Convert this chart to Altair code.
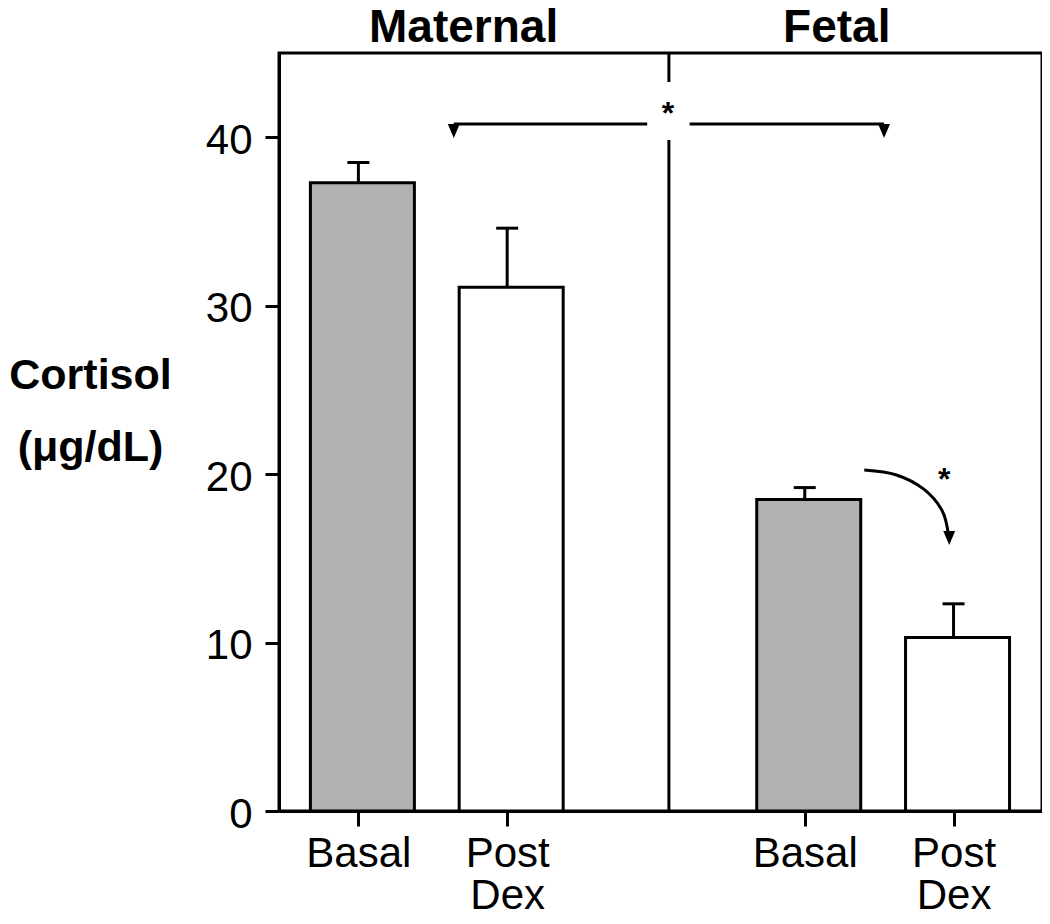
import altair as alt
import pandas as pd

# ---- data ----
groups = ["Maternal", "Maternal", "Fetal", "Fetal"]
conditions = ["Basal", "Post Dex", "Basal", "Post Dex"]
tick_labels = ["Basal", "Post Dex", "Basal", "Post Dex"]
slots = [0.5, 1.5, 3.5, 4.5]          # category slots on the x scale
means = [37.3, 31.1, 18.5, 10.3]
errors = [1.2, 3.5, 0.7, 2.0]
y_ticks = [0, 10, 20, 30, 40]

panel_titles = ["Maternal", "Fetal"]
panel_title_x = [1.207, 3.715]

# annotation geometry (in data units)
divider_x = [2.587, 2.587]
divider_y_top = [45.0, 39.84]
divider_y_bottom = [43.28, 0.0]

bracket_y = [40.79, 40.79]
bracket_x_start = [1.141, 2.726]
bracket_x_end = [2.441, 4.033]

arrowhead_x = [1.141, 4.033, 4.471]
arrowhead_y = [40.37, 40.37, 16.21]

curve_x = [3.900, 4.116, 4.298, 4.421, 4.464]
curve_y = [20.24, 19.95, 19.12, 17.87, 16.50]

star_x = [2.580, 4.438]
star_y = [40.79, 19.06]

FONT = "Liberation Sans"

df = pd.DataFrame({
    "group": groups, "condition": conditions, "slot": slots,
    "mean": means, "err": errors,
})
df["top"] = df["mean"] + df["err"]

xs = alt.Scale(domain=[0, 5.061], nice=False, zero=False)
ys = alt.Scale(domain=[0, 45], nice=False)

label_expr = ""
for v, t in zip(slots[:-1], tick_labels[:-1]):
    label_expr += f"datum.value == {v} ? '{t}' : "
label_expr += f"'{tick_labels[-1]}'"
label_expr = f"split({label_expr}, ' ')"

x_axis = alt.Axis(
    values=slots, labelExpr=label_expr, title=None, grid=False,
    domainColor="black", domainWidth=3, tickColor="black", tickWidth=3,
    tickSize=15, labelFont=FONT, labelFontSize=42, labelColor="black",
    labelPadding=7, labelLineHeight=42, labelFlush=False, labelOverlap=False,
    labelBaseline="top",
)
y_axis = alt.Axis(
    values=y_ticks, grid=False, domainColor="black", domainWidth=3,
    tickColor="black", tickWidth=3, tickSize=14, labelFont=FONT,
    labelFontSize=42, labelColor="black", labelPadding=13, labelFlush=False,
    labelOffset=3,
    title=["Cortisol", "(μg/dL)"], titleAngle=0, titleAlign="center",
    titleBaseline="alphabetic", titleX=-189, titleY=335, titleFont=FONT,
    titleFontSize=43, titleFontWeight="bold", titleLineHeight=72,
    titleColor="black",
)


def X(field):
    return alt.X(field, scale=xs, axis=x_axis)


def Y(field):
    return alt.Y(field, scale=ys, axis=y_axis)


bars = alt.Chart(df).mark_bar(
    width=104, xOffset=4, stroke="black", strokeWidth=3, strokeJoin="miter"
).encode(
    x=X("slot:Q"),
    y=Y("mean:Q"),
    fill=alt.Fill("condition:N",
                  scale=alt.Scale(domain=["Basal", "Post Dex"],
                                  range=["#b2b2b2", "#ffffff"]),
                  legend=None),
)

err_rule = alt.Chart(df).mark_rule(color="black", strokeWidth=3).encode(
    x=X("slot:Q"), y=Y("mean:Q"), y2="top:Q",
)
err_cap = alt.Chart(df).mark_tick(
    color="black", orient="horizontal", size=22, thickness=3, opacity=1
).encode(
    x=X("slot:Q"), y=Y("top:Q"),
)

titles_df = pd.DataFrame({"t": panel_titles, "x": panel_title_x})
titles = alt.Chart(titles_df).mark_text(
    font=FONT, fontSize=46, fontWeight="bold", baseline="alphabetic",
    align="center", color="black"
).encode(
    x=X("x:Q"),
    y=alt.value(-11),
    text="t:N",
)

div_df = pd.DataFrame({"x": divider_x, "y": divider_y_top, "y2": divider_y_bottom})
divider = alt.Chart(div_df).mark_rule(color="black", strokeWidth=3).encode(
    x=X("x:Q"), y=Y("y:Q"), y2="y2:Q",
)

br_df = pd.DataFrame({"x": bracket_x_start, "x2": bracket_x_end, "y": bracket_y})
bracket = alt.Chart(br_df).mark_rule(color="black", strokeWidth=3).encode(
    x=X("x:Q"), x2="x2:Q", y=Y("y:Q"),
)

curve_df = pd.DataFrame({"x": curve_x, "y": curve_y, "i": list(range(len(curve_x)))})
curve = alt.Chart(curve_df).mark_line(
    color="black", strokeWidth=3, interpolate="cardinal"
).encode(
    x=X("x:Q"), y=Y("y:Q"), order="i:Q",
)

ah_df = pd.DataFrame({"x": arrowhead_x, "y": arrowhead_y})
arrowheads = alt.Chart(ah_df).mark_point(
    shape="M-0.85,-1L0.85,-1L0,1Z", size=196, filled=True, color="black",
    opacity=1, strokeWidth=0
).encode(
    x=X("x:Q"), y=Y("y:Q"),
)

star_df = pd.DataFrame({"x": star_x, "y": star_y, "t": ["*", "*"]})
stars = alt.Chart(star_df).mark_text(
    font=FONT, fontSize=32, fontWeight="bold", baseline="alphabetic",
    align="center", color="black"
).encode(
    x=X("x:Q"), y=Y("y:Q"), text="t:N",
)

chart = alt.layer(
    bars, err_rule, err_cap, divider, bracket, curve, arrowheads, stars, titles
).properties(
    width=763, height=758,
    autosize=alt.AutoSizeParams(type="none"),
    padding={"left": 271, "top": 45, "right": 0, "bottom": 100},
    background="white",
).configure_view(stroke="black", strokeWidth=3)

chart.save("out.html", embed_options={"renderer": "svg", "actions": False})
